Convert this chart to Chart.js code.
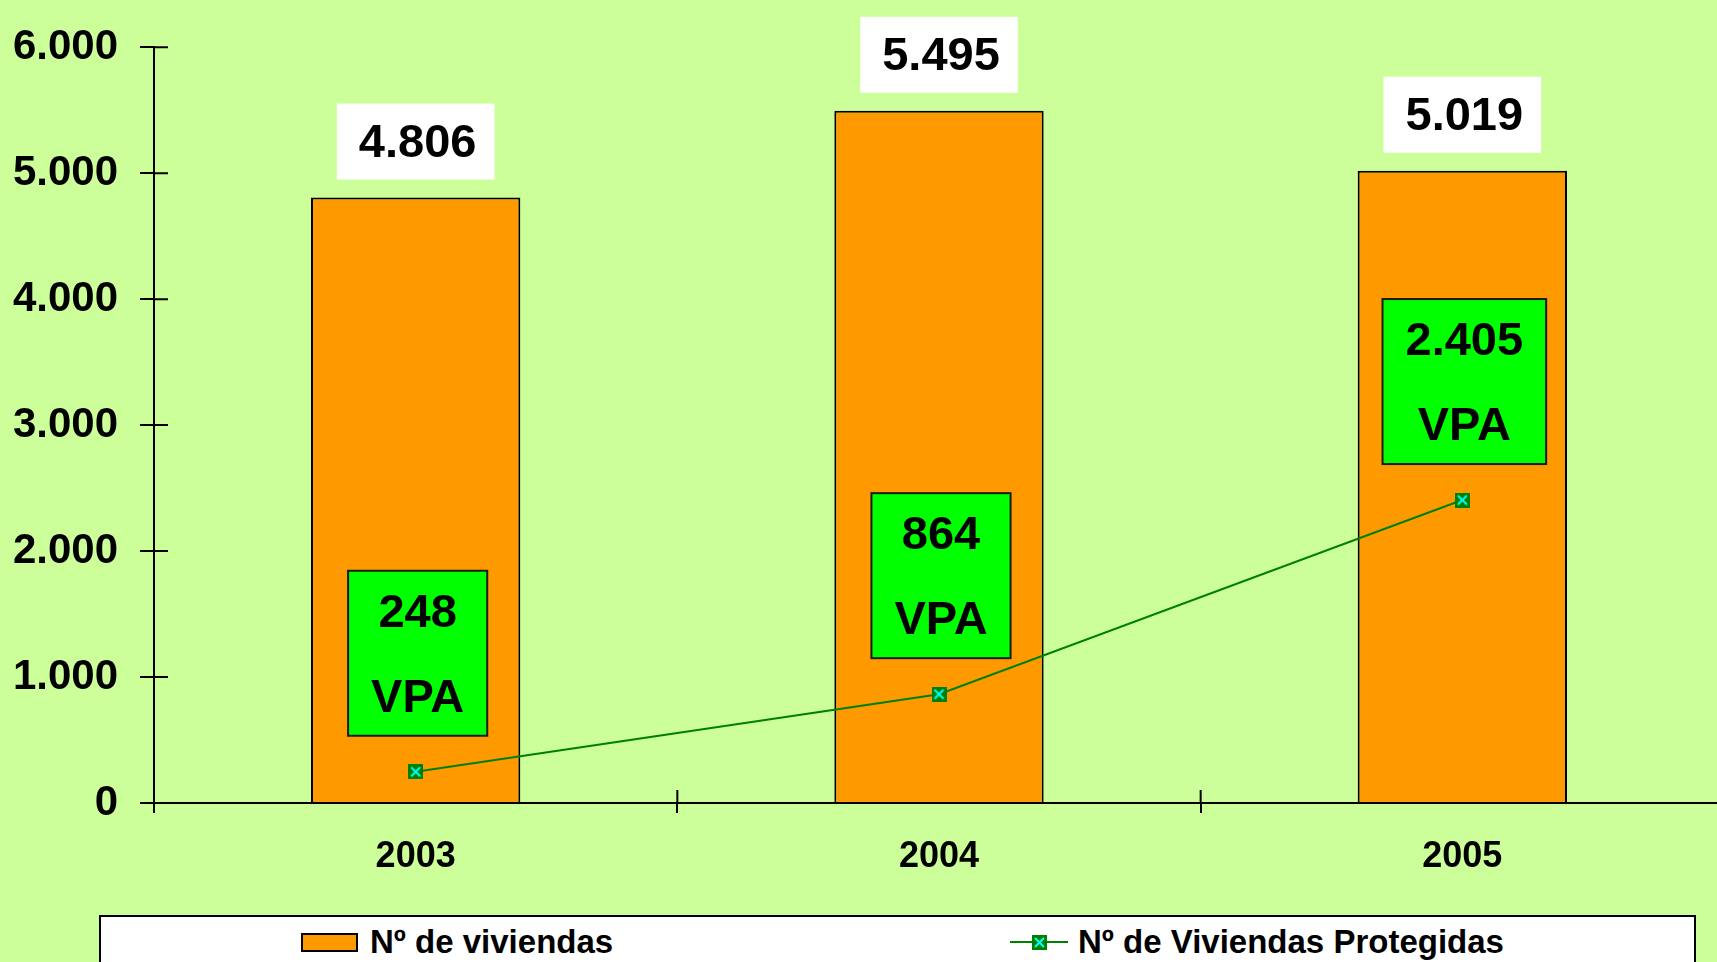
<!DOCTYPE html>
<html lang="es">
<head>
<meta charset="utf-8">
<title>Nº de viviendas</title>
<script src="https://cdn.jsdelivr.net/npm/chart.js@4/dist/chart.umd.min.js"></script>
<style>
  html, body { margin: 0; padding: 0; background: #ccff99; overflow: hidden; }
  #wrap { position: relative; width: 1730px; height: 962px; }
  #chart { position: absolute; left: 0; top: 0; }
  .legend {
    position: absolute; left: 99px; top: 915px; width: 1597px; height: 80px;
    background: #fff; border: 2px solid #000; box-sizing: border-box;
    font: bold 33px "Liberation Sans", Arial, sans-serif; color: #000;
  }
  .legend-item { position: absolute; top: 6px; height: 38px; display: flex; align-items: center; white-space: nowrap; }
  .swatch { width: 57px; height: 19px; background: #ff9900; border: 2px solid #000; box-sizing: border-box; margin-right: 12px; }
  .line-mark { margin-right: 10px; }
</style>
</head>
<body>
<div id="wrap">
  <canvas id="chart" width="1730" height="962"></canvas>
  <div class="legend">
    <div class="legend-item" style="left:200px"><span class="swatch"></span><span id="lbl-bar"></span></div>
    <div class="legend-item" style="left:909px"><canvas class="line-mark" id="mark-line" width="58" height="18"></canvas><span id="lbl-line"></span></div>
  </div>
</div>
<script>
const years = ['2003', '2004', '2005'];
const viviendas = [4806, 5495, 5019];
const protegidas = [248, 864, 2405];
const yTicks = [0, 1000, 2000, 3000, 4000, 5000, 6000];
const seriesNames = ['Nº de viviendas', 'Nº de Viviendas Protegidas'];
const vpaLabel = 'VPA';

const FONT = '"Liberation Sans", Arial, sans-serif';
const ORANGE = '#ff9900';
const LINE_GREEN = '#008000';
const BOX_GREEN = '#00ff00';

// thousands with a dot, as in the original (4.806)
function fmtNum(v) {
  return String(Math.round(v)).replace(/\B(?=(\d{3})+(?!\d))/g, '.');
}

function makeMarker() {
  const c = document.createElement('canvas');
  c.width = 15; c.height = 15;
  const g = c.getContext('2d');
  g.fillStyle = LINE_GREEN;
  g.fillRect(0, 0, 15, 15);
  g.strokeStyle = '#00ffff';
  g.lineWidth = 2;
  g.beginPath();
  g.moveTo(3, 3); g.lineTo(12, 12);
  g.moveTo(12, 3); g.lineTo(3, 12);
  g.stroke();
  return c;
}

const marker = makeMarker();

// legend (html, the chart legend cannot space the two items this far apart)
document.getElementById('lbl-bar').textContent = seriesNames[0];
document.getElementById('lbl-line').textContent = seriesNames[1];
(function drawLegendMark() {
  const g = document.getElementById('mark-line').getContext('2d');
  g.strokeStyle = LINE_GREEN;
  g.lineWidth = 2;
  g.beginPath(); g.moveTo(0, 9); g.lineTo(58, 9); g.stroke();
  g.drawImage(marker, 22, 2);
})();

// ticks that cross the axis lines, inner half
const innerTicks = {
  id: 'innerTicks',
  afterDraw(chart) {
    const { ctx, scales: { x, y } } = chart;
    ctx.save();
    ctx.strokeStyle = '#000';
    ctx.lineWidth = 2;
    ctx.beginPath();
    y.ticks.forEach((t, i) => {
      const py = y.getPixelForTick(i);
      ctx.moveTo(y.right, py); ctx.lineTo(y.right + 14, py);
    });
    const w = (x.right - x.left) / years.length;
    for (let i = 1; i < years.length; i++) {
      const px = x.left + i * w;
      ctx.moveTo(px, x.top); ctx.lineTo(px, x.top - 13);
    }
    ctx.stroke();
    ctx.restore();
  }
};

// white value boxes above the bars and green VPA boxes
const labelBoxes = {
  id: 'labelBoxes',
  afterDatasetsDraw(chart) {
    const ctx = chart.ctx;
    const bars = chart.getDatasetMeta(0).data;
    const pts = chart.getDatasetMeta(1).data;
    ctx.save();
    ctx.font = `bold 47px ${FONT}`;
    ctx.textAlign = 'center';
    ctx.textBaseline = 'middle';
    bars.forEach((bar, i) => {
      const top = fmtNum(viviendas[i]);
      const bw = ctx.measureText(top).width + 40;
      const bh = 76;
      const by = bar.y - 18 - bh;
      ctx.fillStyle = '#fff';
      ctx.fillRect(bar.x - bw / 2, by, bw, bh);
      ctx.fillStyle = '#000';
      ctx.fillText(top, bar.x + 2, by + bh / 2 + 2);

      const p = pts[i];
      const num = fmtNum(protegidas[i]);
      const gw = Math.max(ctx.measureText(num).width, ctx.measureText(vpaLabel).width) + 46;
      const gh = 165;
      const cx = bar.x + 2;
      const gy = p.y - 36 - gh;
      ctx.fillStyle = BOX_GREEN;
      ctx.fillRect(cx - gw / 2, gy, gw, gh);
      ctx.strokeStyle = '#1a1a1a';
      ctx.lineWidth = 2;
      ctx.strokeRect(cx - gw / 2, gy, gw, gh);
      ctx.fillStyle = '#000';
      ctx.fillText(num, cx, gy + 43);
      ctx.fillText(vpaLabel, cx, gy + gh - 37);
    });
    ctx.restore();
  }
};

new Chart(document.getElementById('chart'), {
  data: {
    labels: years,
    datasets: [
      {
        type: 'bar',
        label: seriesNames[0],
        data: viviendas,
        backgroundColor: ORANGE,
        borderColor: '#000',
        borderWidth: 2,
        barPercentage: 0.4,
        categoryPercentage: 1,
        order: 2,
      },
      {
        type: 'line',
        label: seriesNames[1],
        data: protegidas,
        borderColor: LINE_GREEN,
        borderWidth: 2,
        pointStyle: marker,
        tension: 0,
        order: 1,
      },
    ],
  },
  options: {
    responsive: false,
    animation: false,
    layout: { padding: { top: 46, right: 0, bottom: 0, left: 0 } },
    plugins: {
      legend: { display: false },
      tooltip: { enabled: false },
    },
    scales: {
      x: {
        offset: true,
        grid: { offset: true, drawOnChartArea: false, tickLength: 10, color: '#000', lineWidth: 2 },
        border: { color: '#000', width: 2 },
        ticks: { color: '#000', padding: 22, font: { family: FONT, size: 36, weight: 'bold' } },
        afterFit: s => { s.height = 159; },
      },
      y: {
        min: yTicks[0],
        max: yTicks[yTicks.length - 1],
        afterBuildTicks: s => { s.ticks = yTicks.map(v => ({ value: v })); },
        grid: { drawOnChartArea: false, tickLength: 14, color: '#000', lineWidth: 2 },
        border: { color: '#000', width: 2 },
        ticks: { color: '#000', padding: 22, callback: v => fmtNum(v), font: { family: FONT, size: 42, weight: 'bold' } },
        afterFit: s => { s.width = 154; },
      },
    },
  },
  plugins: [innerTicks, labelBoxes],
});
</script>
</body>
</html>
